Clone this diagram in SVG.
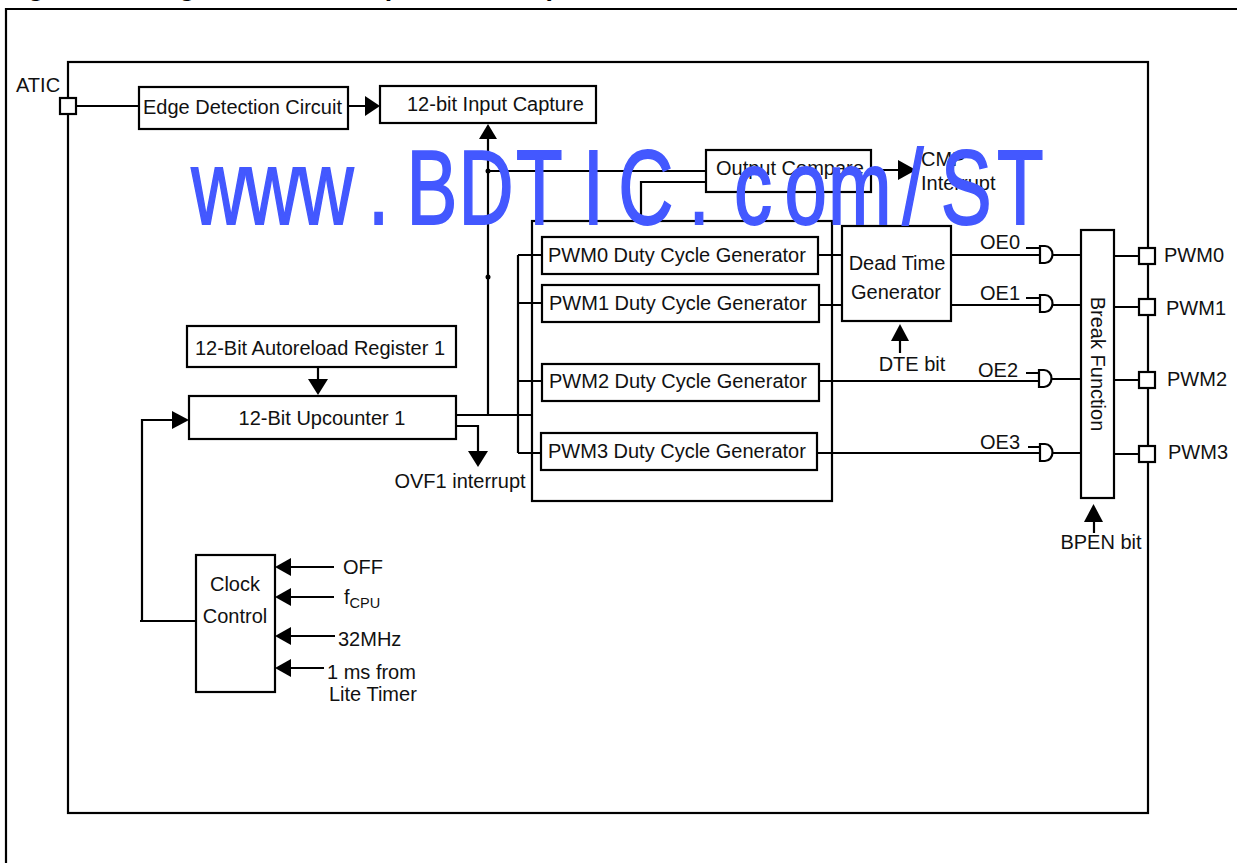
<svg xmlns="http://www.w3.org/2000/svg" width="1237" height="863" viewBox="0 0 1237 863">
<style>
text{font-family:"Liberation Sans",Arial,sans-serif;font-size:20px;fill:#111}
.b{fill:#fff;stroke:#000;stroke-width:2.200}
.n{fill:none;stroke:#000;stroke-width:2.200}
.h{fill:#000;stroke:none}
.m{text-anchor:middle}
.title{font-size:26.700px;font-weight:bold;fill:#000}
.wm{font-size:106px;fill:#4358ff;stroke:#4358ff;stroke-width:1.800;text-anchor:middle}
</style>
<rect width="1237" height="863" fill="#fff"/>
<text class="title" x="4" y="-4">Figure 44. Single Timer Mode (ENCNTR2=0)</text>
<path class="n" d="M6 863V9H1237"/>
<rect x="68" y="62" width="1080" height="751" fill="none" stroke="#000" stroke-width="2.200"/>
<g id="connectors">
<path class="n" d="M76 106H139M348 106H365M488 135V415M488 171H706M641 220V182H706M870 170H898M456 415H532M518 255H542M518 303H542M518 381H542M518 453H542M518 255V453M456 426H478V452M318 367V380M142 621V420H172M140 621H196M290 567H334M290 597H334M290 636H335M290 668H324M818 255H842M818 305H842M817 381H1040M817 453H1040M950 255H1040M950 305H1040M1052 255H1081M1052 305H1081M1052 379H1081M1052 453H1081M1114 256H1140M1114 307H1140M1114 380H1140M1114 454H1140M900 340V353M1094 520V533M1026 248H1040M1026 298H1040M1026 373H1040M1028 447H1040"/>
<polygon class="h" points="365,96 380,106 365,116"/>
<polygon class="h" points="479,139 488,124 497,139"/>
<polygon class="h" points="898,160 916,170 898,180"/>
<polygon class="h" points="308,379 318,395 328,379"/>
<polygon class="h" points="172,411 189,420 172,429"/>
<polygon class="h" points="468,451 478,467 488,451"/>
<polygon class="h" points="291,558 275,567 291,576"/>
<polygon class="h" points="291,588 275,597 291,606"/>
<polygon class="h" points="291,627 275,636 291,645"/>
<polygon class="h" points="291,659 275,668 291,677"/>
<polygon class="h" points="891,341 900,324 909,341"/>
<polygon class="h" points="1084,522 1093.500,504 1103,522"/>
<circle class="h" cx="488" cy="171" r="2.500"/>
<circle class="h" cx="488" cy="277" r="2.500"/>
</g>
<g id="atic"><rect class="b" x="60" y="98" width="16" height="16"/><text x="16" y="92">ATIC</text></g>
<g id="edge"><rect class="b" x="139" y="87" width="209" height="42"/><text x="143" y="114">Edge Detection Circuit</text></g>
<g id="capture"><rect class="b" x="380" y="86" width="216" height="37"/><text x="407" y="111">12-bit Input Capture</text></g>
<g id="compare"><rect x="706" y="150" width="165" height="42" fill="none" stroke="#000" stroke-width="2.200"/><text x="716" y="175">Output Compare</text></g>
<g id="cmp"><text x="921" y="166">CMP</text><text x="921" y="190">Interrupt</text></g>
<g id="pwm-block"><rect x="532" y="221" width="300" height="280" fill="none" stroke="#000" stroke-width="2.200"/></g>
<g id="pwm0gen"><rect class="b" x="542" y="237" width="276" height="37"/><text x="548" y="262">PWM0 Duty Cycle Generator</text></g>
<g id="pwm1gen"><rect class="b" x="542" y="285" width="277" height="37"/><text x="549" y="310">PWM1 Duty Cycle Generator</text></g>
<g id="pwm2gen"><rect class="b" x="542" y="364" width="277" height="37"/><text x="549" y="388">PWM2 Duty Cycle Generator</text></g>
<g id="pwm3gen"><rect class="b" x="541" y="433" width="276" height="37"/><text x="548" y="458">PWM3 Duty Cycle Generator</text></g>
<g id="deadtime"><rect class="b" x="842" y="226" width="109" height="95"/><text x="897" y="270" class="m">Dead Time</text><text x="896" y="299" class="m">Generator</text></g>
<g id="reload"><rect class="b" x="187" y="326" width="269" height="41"/><text x="320" y="355" class="m">12-Bit Autoreload Register 1</text></g>
<g id="upcounter"><rect class="b" x="189" y="396" width="267" height="43"/><text x="322" y="425" class="m">12-Bit Upcounter 1</text></g>
<g id="ovf"><text x="460" y="488" class="m">OVF1 interrupt</text></g>
<g id="clock"><rect class="b" x="196" y="555" width="79" height="137"/><text x="235" y="591" class="m">Clock</text><text x="235" y="623" class="m">Control</text></g>
<g id="clock-in"><text x="343" y="574">OFF</text><text x="344" y="604">f<tspan font-size="14.500" dy="4">CPU</tspan></text><text x="338" y="646">32MHz</text><text x="327" y="679">1 ms from</text><text x="329" y="701">Lite Timer</text></g>
<g id="break"><rect class="b" x="1081" y="230" width="33" height="268"/><text transform="translate(1091 364) rotate(90)" class="m">Break Function</text></g>
<g id="and0"><path class="b" d="M1040 246H1045A7.500 8.500 0 0 1 1045 263H1040Z"/><text x="980" y="249">OE0</text></g>
<g id="and1"><path class="b" d="M1040 295H1045A7.500 8.500 0 0 1 1045 312H1040Z"/><text x="980" y="300">OE1</text></g>
<g id="and2"><path class="b" d="M1039 370H1044A7.500 8.500 0 0 1 1044 387H1039Z"/><text x="978" y="377">OE2</text></g>
<g id="and3"><path class="b" d="M1040 444H1045A7.500 8.500 0 0 1 1045 461H1040Z"/><text x="980" y="449">OE3</text></g>
<g id="dte"><text x="912" y="371" class="m">DTE bit</text></g>
<g id="bpen"><text x="1101" y="549" class="m">BPEN bit</text></g>
<g id="pwm0"><rect class="b" x="1139" y="248" width="16" height="16"/><text x="1164" y="262">PWM0</text></g>
<g id="pwm1"><rect class="b" x="1139" y="299" width="16" height="16"/><text x="1166" y="315">PWM1</text></g>
<g id="pwm2"><rect class="b" x="1139" y="372" width="16" height="16"/><text x="1167" y="386">PWM2</text></g>
<g id="pwm3"><rect class="b" x="1139" y="446" width="16" height="16"/><text x="1168" y="459">PWM3</text></g>
<text class="wm" transform="scale(0.72 1)" y="224" x="304 378 453 526 600 675 749 824 897 971 1046 1119 1194 1268 1342 1417">www.BDTIC.com/ST</text>
</svg>
